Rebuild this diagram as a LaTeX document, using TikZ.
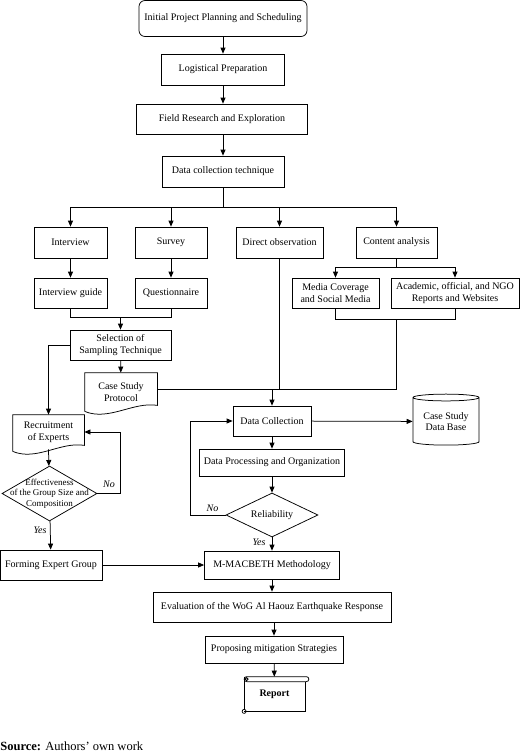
\documentclass[tikz,border=0pt]{standalone}
\usepackage{fontspec}
\setmainfont{Liberation Serif}
\usepackage{tikz}
\usetikzlibrary{shapes.geometric,arrows.meta}

\begin{document}
\begin{tikzpicture}[x=1pt, y=-1pt, line width=0.75pt, >={Triangle[length=6pt,width=5pt]},
		every node/.style={font=\fontsize{10}{11.5}\selectfont, align=center, inner sep=0pt},
		box/.style={draw, rectangle, minimum height=30pt},
		docbox/.style={rectangle},
		decision/.style={draw, diamond},
		answer/.style={font=\fontsize{10}{11.5}\selectfont\itshape}]
	\useasboundingbox (0,0) rectangle (520,755);
				\node[box, rounded corners=6pt, minimum width=168pt, minimum height=36pt](init) at (223, 18.5) {Initial Project Planning and Scheduling};
				\node[box, minimum width=123pt, minimum height=31pt](logi) at (223, 69.5) {Logistical Preparation};
				\node[box, minimum width=171pt](field) at (222, 119) {Field Research and Exploration};
				\node[box, minimum width=122pt, minimum height=31pt](tech) at (223, 171.5) {Data collection technique};
				\coordinate(split) at (223, 207);
				\node[box, minimum width=73pt, minimum height=31pt](interview) at (70.5, 242.5) {Interview};
				\node[box, minimum width=72pt, minimum height=31pt](survey) at (171, 242.5) {Survey};
				\node[box, minimum width=87pt, minimum height=31pt](direct) at (279.5, 242.5) {Direct observation};
				\node[box, minimum width=81pt, minimum height=31pt](content) at (396.5, 242.5) {Content analysis};
				\node[box, minimum width=73pt](guide) at (70.5, 293) {Interview guide};
				\node[box, minimum width=72pt](quest) at (171, 293) {Questionnaire};
				\coordinate(csplit) at (396.5, 267);
				\node[box, minimum width=87pt](media) at (335.5, 293) {Media Coverage\\and Social Media};
				\node[box, minimum width=128pt](academic) at (455, 293) {Academic, official, and NGO\\Reports and Websites};
				\coordinate(gmerge) at (120.5, 317);
				\coordinate(cmerge) at (396.5, 319);
				\node[box, minimum width=101pt](select) at (120.5, 345) {Selection of\\Sampling Technique};
				\node[docbox, minimum width=72pt, minimum height=38pt](protocol) at (121, 392) {Case Study\\Protocol};
				\coordinate(djoin) at (272, 389);
				\coordinate(cjoin) at (396.5, 389);
				\node[box, minimum width=78pt](data) at (272, 421) {Data Collection};
				\node[draw, cylinder, shape border rotate=90, aspect=0.15, minimum width=66pt, minimum height=51pt](base) at (446, 421.5) {Case Study\\Data Base};
				\node[box, minimum width=145pt, minimum height=27pt](proc) at (272, 462.5) {Data Processing and Organization};
				\node[decision, minimum width=92pt, minimum height=44pt, label={center:Reliability}](rel) at (272, 515) {};
				\node[box, minimum width=135pt, minimum height=28pt](macbeth) at (272, 565) {M-MACBETH Methodology};
				\node[docbox, minimum width=71pt, minimum height=34pt](recruit) at (48.5, 432) {Recruitment\\of Experts};
				\node[decision, minimum width=95pt, minimum height=55pt, label={[font=\fontsize{9}{10.5}\selectfont, align=center]center:Effectiveness\\of the Group Size and\\Composition}](eff) at (49.5, 493.5) {};
				\node[box, minimum width=102pt](form) at (51, 565) {Forming Expert Group};
				\node[box, minimum width=238pt](eval) at (272, 607) {Evaluation of the WoG Al Haouz Earthquake Response};
				\node[box, minimum width=138pt, minimum height=27pt](prop) at (274, 649.5) {Proposing mitigation Strategies};
				\node[font=\fontsize{10}{11.5}\selectfont\bfseries, minimum width=60pt, minimum height=34pt](report) at (274.5, 694) {Report};
				\node[answer](norel) at (212.5, 508) {No};
				\node[answer](yesrel) at (259, 542) {Yes};
				\node[answer](noeff) at (109, 484) {No};
				\node[answer](yeseff) at (40, 530) {Yes};
				\node[anchor=base west, font=\fontsize{12.5}{15}\selectfont](source) at (0, 750.5) {\textbf{Source:} Authors' own work};
				\draw (protocol.south west) -- (protocol.north west) -- (protocol.north east) -- ([yshift=6pt]protocol.south east) .. controls +(-24pt,4pt) and +(24pt,-10pt) .. (protocol.south west);
				\draw ([yshift=-2pt]recruit.south west) -- (recruit.north west) -- (recruit.north east) -- ([yshift=4pt]recruit.south east) .. controls +(-24pt,4pt) and +(24pt,-10pt) .. ([yshift=-2pt]recruit.south west);
				\draw[rounded corners=2.5pt] (report.north west) rectangle ([xshift=4pt, yshift=-5pt]report.north east);
				\draw ([yshift=-5pt]report.north east) -- (report.south east) -- (report.south west);
				\draw (report.north west) -- ([yshift=2pt]report.south west);
				\draw (report.south west) circle (2pt);
				\draw ([xshift=2.5pt, yshift=-2.5pt]report.north west) circle (1.5pt);
				\draw[->] (init) -- (logi);
				\draw[->] (logi) -- (logi |- field.north);
				\draw[->] (field.south -| tech) -- (tech);
				\draw (tech) -- (split);
				\draw[->] (split) -| (interview);
				\draw[->] (split) -| (survey);
				\draw[->] (split) -| (direct);
				\draw[->] (split) -| (content);
				\draw[->] (interview) -- (guide);
				\draw[->] (survey) -- (quest);
				\draw (content) -- (csplit);
				\draw[->] (csplit) -| (media);
				\draw[->] (csplit) -| (academic);
				\draw (guide) |- (gmerge);
				\draw (quest) |- (gmerge);
				\draw[->] (gmerge) -- (select);
				\draw (media) |- (cmerge);
				\draw (academic) |- (cmerge);
				\draw[->] (select) -- (protocol);
				\draw[->] (select.west) -| (recruit);
				\draw (protocol.east |- djoin) -- (cjoin);
				\draw (direct) -- (direct |- djoin);
				\draw (cmerge) -- (cjoin);
				\draw[->] (djoin) -- (data);
				\draw[->] (data) -- (base);
				\draw[->] (data) -- (proc);
				\draw[->] (proc) -- (rel);
				\draw[->] (rel.west) -- ++(-35,0) |- (data);
				\draw[->] (rel) -- (macbeth);
				\draw[->] (recruit.south) -- (eff);
				\draw[->] (eff.east) -- ++(23,0) |- (recruit);
				\draw[->] (eff) -- (form);
				\draw[->] (form) -- (macbeth);
				\draw[->] (macbeth) -- (eval);
				\draw[->] (prop |- eval.south) -- (prop);
				\draw[->] (prop) -- (report);
		\end{tikzpicture}
\end{document}
